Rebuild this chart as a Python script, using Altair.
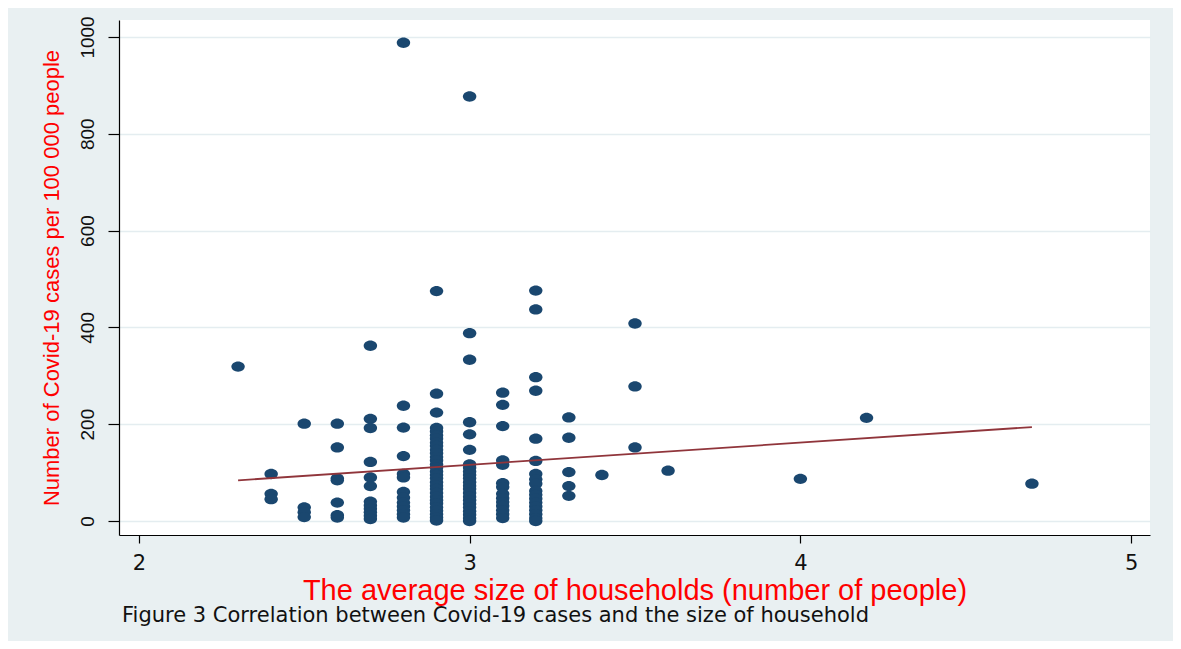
import altair as alt
import pandas as pd

# household size levels (x) and the Covid-19 case rates read at each level (y)
size_levels = [2.3, 2.4, 2.5, 2.6, 2.7, 2.8, 2.9, 3.0, 3.1, 3.2, 3.3, 3.4, 3.5, 3.6, 4.0, 4.2, 4.7]
cases_2_3 = [319]
cases_2_4 = [97, 56, 45]
cases_2_5 = [201, 28, 18, 8]
cases_2_6 = [201, 152, 88, 84, 38, 12, 7]
cases_2_7 = [362, 211, 192, 122, 90, 72, 40, 32, 25, 18, 11, 4]
cases_2_8 = [988, 238, 193, 134, 97, 90, 60, 48, 38, 30, 22, 14, 7]
cases_2_9 = [475, 263, 224, 192, 185, 177, 170, 162, 155, 147, 140, 132, 125, 117, 110,
             102, 95, 88, 80, 73, 66, 58, 50, 43, 36, 28, 21, 14, 7, 1]
cases_3_0 = [877, 388, 333, 204, 179, 147, 117, 110, 102, 95, 88, 80, 73, 66, 58, 50,
             43, 35, 28, 20, 13, 6, 0]
cases_3_1 = [265, 240, 196, 125, 116, 78, 70, 56, 47, 39, 31, 22, 14, 6]
cases_3_2 = [476, 437, 297, 269, 170, 124, 97, 86, 77, 62, 54, 46, 38, 30, 22, 14, 6, 0]
cases_3_3 = [214, 172, 101, 72, 52]
cases_3_4 = [95]
cases_3_5 = [408, 278, 152]
cases_3_6 = [104]
cases_4_0 = [87]
cases_4_2 = [213]
cases_4_7 = [77]
cases_by_level = [cases_2_3, cases_2_4, cases_2_5, cases_2_6, cases_2_7, cases_2_8, cases_2_9,
                  cases_3_0, cases_3_1, cases_3_2, cases_3_3, cases_3_4, cases_3_5, cases_3_6,
                  cases_4_0, cases_4_2, cases_4_7]

# fitted linear trend (end points)
fit_x = [2.3, 4.7]
fit_y = [84, 194]

x_ticks = [2, 3, 4, 5]
y_ticks = [0, 200, 400, 600, 800, 1000]

rows = []
for lvl, vals in zip(size_levels, cases_by_level):
    for v in vals:
        rows.append({"size": lvl, "cases": v})
pts = pd.DataFrame(rows)
fit = pd.DataFrame({"size": fit_x, "cases": fit_y})

SANS = "Liberation Sans, Arial, sans-serif"

xscale = alt.Scale(domain=[1.94, 5.057], nice=False, zero=False)
yscale = alt.Scale(domain=[-29, 1035], nice=False, zero=False)

xaxis = alt.Axis(values=x_ticks, title="The average size of households (number of people)",
                 titleColor="#ff0000", titleFont=SANS, titleFontSize=29,
                 titleFontWeight="normal", titlePadding=3,
                 labelFont="DejaVu Sans", labelFontSize=21, labelColor="#111111",
                 labelPadding=9, tickSize=8, grid=False, format="d")
yaxis = alt.Axis(values=y_ticks, title="Number of Covid-19 cases per 100 000 people",
                 titleColor="#ff0000", titleFont=SANS, titleFontSize=22,
                 titleFontWeight="normal", titlePadding=15,
                 labelFont=SANS, labelFontSize=19, labelColor="#111111",
                 labelAngle=270, labelAlign="center", labelBaseline="bottom",
                 labelPadding=11, tickSize=11, grid=True, gridColor="#e4edf0", gridWidth=1.5,
                 format="d")

ellipse = "M -1 0 A 1 0.77 0 1 0 1 0 A 1 0.77 0 1 0 -1 0 Z"

points = alt.Chart(pts).mark_point(shape=ellipse, filled=True, size=180, color="#1a476f",
                                   opacity=1).encode(
    x=alt.X("size:Q", scale=xscale, axis=xaxis),
    y=alt.Y("cases:Q", scale=yscale, axis=yaxis),
)

line = alt.Chart(fit).mark_line(color="#90353b", strokeWidth=1.8).encode(
    x=alt.X("size:Q", scale=xscale),
    y=alt.Y("cases:Q", scale=yscale),
)

chart = alt.layer(points, line).properties(
    width=1031,
    height=515,
    autosize=alt.AutoSizeParams(type="none"),
    padding={"left": 111, "top": 12, "right": 23, "bottom": 106},
    background="#e9f0f2",
    title=alt.TitleParams(
        text="Figure 3 Correlation between Covid-19 cases and the size of household",
        orient="bottom", anchor="start", font="DejaVu Sans", fontSize=21,
        fontWeight="normal", color="#111111", offset=0, dx=82,
    ),
).configure_view(fill="white", strokeWidth=0).configure_axis(
    domainColor="#000000", domainWidth=1.2, tickColor="#000000", tickWidth=1.2,
)

chart.save("out.html", embed_options={"renderer": "svg", "actions": False})
